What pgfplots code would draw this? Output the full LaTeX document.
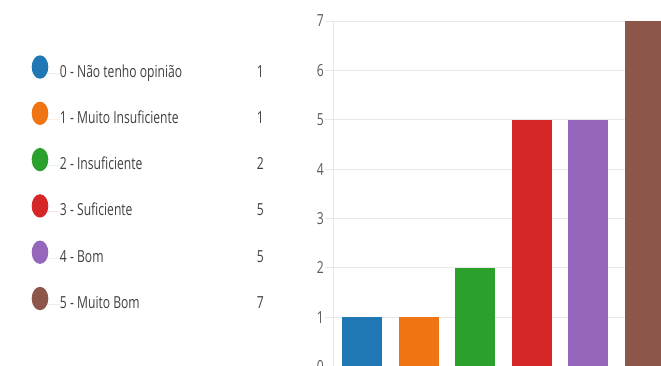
\documentclass[border=0pt]{standalone}
\usepackage{fontspec}
\setmainfont{Open Sans}[FakeStretch=0.73]
\usepackage{pgfplots}
\pgfplotsset{compat=1.18}
\definecolor{c0}{HTML}{1F77B4}
\definecolor{c1}{HTML}{F07412}
\definecolor{c2}{HTML}{2CA02C}
\definecolor{c3}{HTML}{D62728}
\definecolor{c4}{HTML}{9467BD}
\definecolor{c5}{HTML}{8C564B}
\definecolor{txt}{HTML}{404040}
\definecolor{tick}{HTML}{5A5A5A}
\definecolor{gridc}{HTML}{E8E8E8}
\pgfplotsset{
  dotlegend/.style={legend image code/.code={%
    \fill[##1,draw=none] (8.3pt,6pt) ellipse (8.3pt and 11.7pt);
    \path (0pt,0pt) -- (28.3pt,0pt);}}
}
\begin{document}
\begin{tikzpicture}[x=1pt,y=1pt]
\path[use as bounding box] (0,0) rectangle (661,366);
\clip (0,0) rectangle (661,366);
\begin{axis}[
  at={(333pt,-0.6pt)}, anchor=south west,
  scale only axis, width=328pt, height=345.6pt,
  xmin=-0.512, xmax=5.283, ymin=0, ymax=7,
  ybar, bar width=0.707, bar shift=0pt,
  axis x line=none, axis y line*=left,
  y axis line style={draw=gridc, line width=0.8pt},
  ytick={0,1,...,7},
  ymajorgrids, grid style={draw=gridc, line width=0.8pt},
  major tick length=8pt, tick align=outside,
  ytick style={draw=gridc, line width=0.8pt},
  /pgf/number format/assume math mode=true,
  yticklabel style={font=\fontsize{16.6}{18}\selectfont, text=tick, inner sep=1pt},
  legend style={at={(-0.9186,0.9007)}, anchor=north west, draw=none, fill=none,
    inner sep=0pt, outer sep=0pt, row sep=20.6pt,
    font=\fontsize{16.6}{18}\selectfont, text=txt,
    nodes={inner sep=0pt, text height=12pt, text depth=4pt},
    cells={anchor=west}},
  dotlegend,
]
\addplot[fill=c0, draw=none, dotlegend] coordinates {(0,1)};
\addlegendentry{\makebox[197pt][l]{0 - Não tenho opinião}1}
\addplot[fill=c1, draw=none, dotlegend] coordinates {(1,1)};
\addlegendentry{\makebox[197pt][l]{1 - Muito Insuficiente}1}
\addplot[fill=c2, draw=none, dotlegend] coordinates {(2,2)};
\addlegendentry{\makebox[197pt][l]{2 - Insuficiente}2}
\addplot[fill=c3, draw=none, dotlegend] coordinates {(3,5)};
\addlegendentry{\makebox[197pt][l]{3 - Suficiente}5}
\addplot[fill=c4, draw=none, dotlegend] coordinates {(4,5)};
\addlegendentry{\makebox[197pt][l]{4 - Bom}5}
\addplot[fill=c5, draw=none, dotlegend] coordinates {(5,7)};
\addlegendentry{\makebox[197pt][l]{5 - Muito Bom}7}
\end{axis}
\end{tikzpicture}
\end{document}
